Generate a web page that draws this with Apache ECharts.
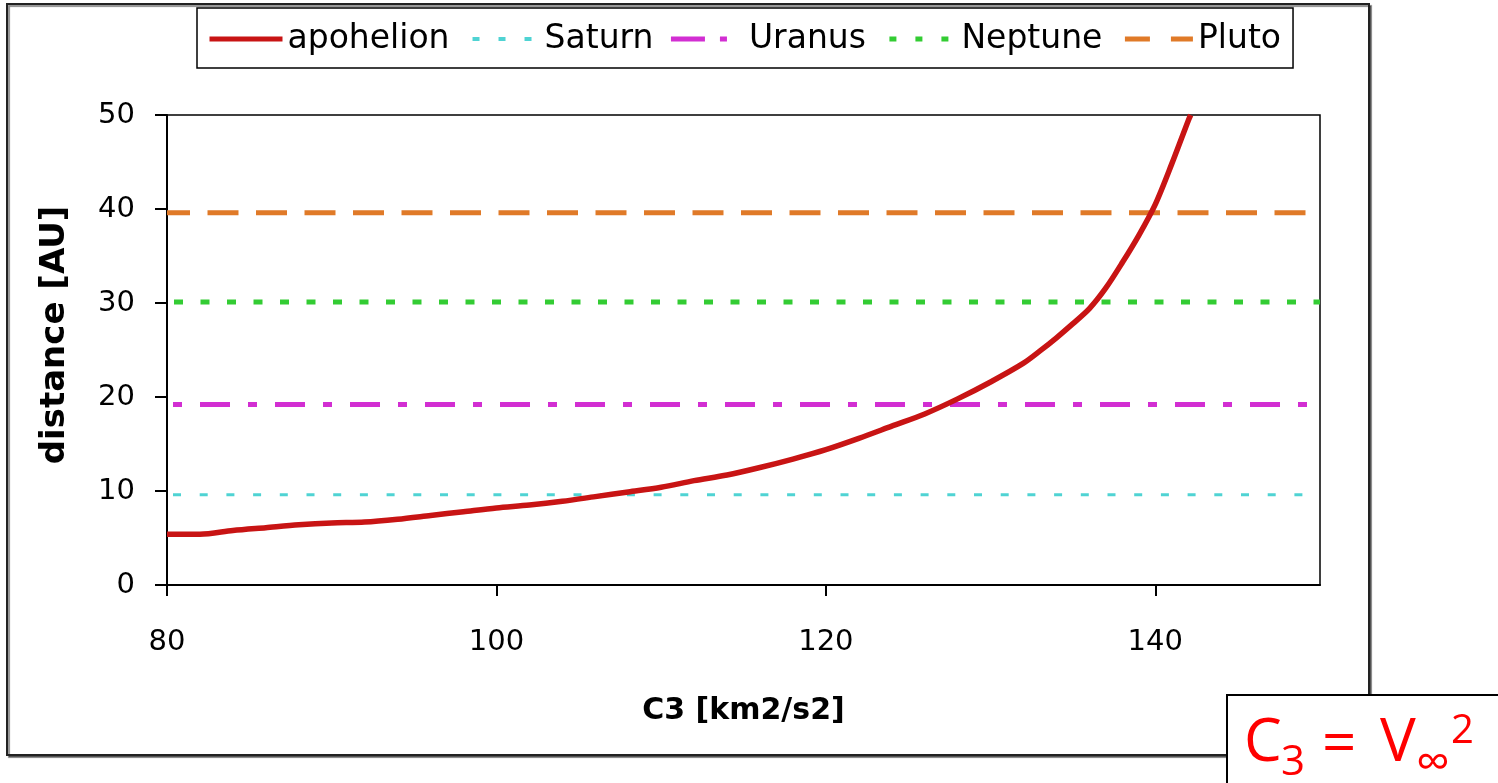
<!DOCTYPE html>
<html>
<head>
<meta charset="utf-8">
<script src="https://cdn.jsdelivr.net/npm/echarts@6/dist/echarts.min.js"></script>
<style>
html,body{margin:0;padding:0;background:#fff;}
#chart{width:1498px;height:783px;}
</style>
</head>
<body>
<div id="chart"></div>
<script>
// ---- data ----
const c3Values = [80, 82, 84, 86, 88, 90, 92, 94, 96, 98, 100, 102, 104, 106, 108, 110, 112, 114, 116, 118, 120, 122, 124, 126, 128, 130, 132, 133, 134, 135, 136, 137, 138, 139, 140, 141, 142, 142.15];
const apohelionAU = [5.4, 5.4, 5.8, 6.1, 6.4, 6.6, 6.7, 7.0, 7.4, 7.8, 8.2, 8.5, 8.9, 9.4, 9.9, 10.4, 11.1, 11.7, 12.5, 13.4, 14.4, 15.6, 16.9, 18.2, 19.8, 21.6, 23.6, 24.9, 26.3, 27.8, 29.4, 31.6, 34.3, 37.2, 40.5, 44.8, 49.4, 50.0];
const seriesNames = ['apohelion', 'Saturn', 'Uranus', 'Neptune', 'Pluto'];
const saturnAU = 9.6;
const uranusAU = 19.2;
const neptuneAU = 30.1;
const plutoAU = 39.6;
const xRange = [80, 150];
const xTickValues = [80, 100, 120, 140];
const yRange = [0, 50];
const yInterval = 10;
const xTitle = 'C3 [km2/s2]';
const yTitle = 'distance [AU]';

const hline = v => [[xRange[0], v], [xRange[1], v]];
const curve = c3Values.map((c, i) => [c, apohelionAU[i]]);

const chart = echarts.init(document.getElementById('chart'), null, {renderer: 'canvas'});
const FONT = '"DejaVu Sans", sans-serif';
const COL = {apo: '#c81414', sat: '#4fd3d3', ura: '#d22ed2', nep: '#33cc33', plu: '#e07a28'};

const option = {
  backgroundColor: '#fff',
  animation: false,
  grid: {
    left: 167, top: 115, right: 178, bottom: 198,
    show: true, borderColor: '#000', borderWidth: 1.5, backgroundColor: 'transparent'
  },
  legend: {
    data: [
      {name: seriesNames[0], lineStyle: {width: 5, type: 'solid', color: COL.apo}},
      {name: seriesNames[1], lineStyle: {width: 4, type: [7, 19], dashOffset: 20, cap: 'butt', color: COL.sat}},
      {name: seriesNames[2], lineStyle: {width: 5, type: [34, 15, 7, 30], dashOffset: 0, cap: 'butt', color: COL.ura}},
      {name: seriesNames[3], lineStyle: {width: 5, type: [7, 19], dashOffset: 20, cap: 'butt', color: COL.nep}},
      {name: seriesNames[4], lineStyle: {width: 5, type: [25, 21], dashOffset: 41, cap: 'butt', color: COL.plu}}
    ],
    left: 197, top: 8,
    padding: [13, 12, 11, 10],
    itemWidth: 73, itemHeight: 14, itemGap: 15,
    itemStyle: {opacity: 0, borderWidth: 0},
    borderColor: '#000', borderWidth: 1.5, borderRadius: 0,
    backgroundColor: '#fff',
    textStyle: {fontFamily: FONT, fontSize: 33, color: '#000', lineHeight: 36}
  },
  xAxis: {
    type: 'value', min: xRange[0], max: xRange[1], interval: 20,
    name: xTitle, nameLocation: 'middle', nameGap: 111,
    nameTextStyle: {fontFamily: FONT, fontSize: 30, fontWeight: 'bold', color: '#000'},
    axisLine: {show: true, onZero: false, lineStyle: {color: '#000', width: 2}},
    axisTick: {show: true, length: 11, lineStyle: {color: '#000', width: 2}, customValues: xTickValues},
    axisLabel: {fontFamily: FONT, fontSize: 29, color: '#000', margin: 43, customValues: xTickValues},
    splitLine: {show: false}
  },
  yAxis: {
    type: 'value', min: yRange[0], max: yRange[1], interval: yInterval,
    name: yTitle, nameLocation: 'middle', nameGap: 95, nameRotate: 90,
    nameTextStyle: {fontFamily: FONT, fontSize: 34, fontWeight: 'bold', color: '#000', padding: [0, 0, 0, 30]},
    axisLine: {show: true, onZero: false, lineStyle: {color: '#000', width: 2}},
    axisTick: {show: true, length: 12, lineStyle: {color: '#000', width: 2}},
    axisLabel: {fontFamily: FONT, fontSize: 29, color: '#000', margin: 32},
    splitLine: {show: false}
  },
  series: [
    {
      name: seriesNames[0], type: 'line', data: curve, symbol: 'none', smooth: 0.3, z: 10,
      lineStyle: {color: COL.apo, width: 5.5}, itemStyle: {color: COL.apo}
    },
    {
      name: seriesNames[1], type: 'line', data: hline(saturnAU), symbol: 'none',
      lineStyle: {color: COL.sat, width: 3, type: [8, 18.7], dashOffset: 20.7, cap: 'butt'},
      itemStyle: {color: COL.sat}
    },
    {
      name: seriesNames[2], type: 'line', data: hline(uranusAU), symbol: 'none',
      lineStyle: {color: COL.ura, width: 5, type: [30, 18, 9, 18], dashOffset: 42, cap: 'butt'},
      itemStyle: {color: COL.ura}
    },
    {
      name: seriesNames[3], type: 'line', data: hline(neptuneAU), symbol: 'none',
      lineStyle: {color: COL.nep, width: 5, type: [9, 17.5], dashOffset: 19.5, cap: 'butt'},
      itemStyle: {color: COL.nep}
    },
    {
      name: seriesNames[4], type: 'line', data: hline(plutoAU), symbol: 'none',
      lineStyle: {color: COL.plu, width: 5, type: [31, 17.5], dashOffset: 8, cap: 'butt'},
      itemStyle: {color: COL.plu}
    }
  ],
  graphic: [
    {
      type: 'rect', z: -10, silent: true,
      shape: {x: 7, y: 4, width: 1362, height: 751},
      style: {fill: '#fff', stroke: '#222', lineWidth: 2, shadowColor: 'rgba(0,0,0,0.45)', shadowOffsetX: 2, shadowOffsetY: 2, shadowBlur: 1}
    },
    {
      type: 'group', z: 100,
      children: [
        {type: 'rect', shape: {x: 1227, y: 695, width: 290, height: 100}, style: {fill: '#fff', stroke: '#000', lineWidth: 2}},
        {type: 'text', x: 1244, y: 744, style: {text: 'C', font: '60px "Open Sans"', fill: '#ff0000', verticalAlign: 'middle', align: 'left'}},
        {type: 'text', x: 1281, y: 763, style: {text: '3', font: '42px "Open Sans"', fill: '#ff0000', verticalAlign: 'middle', align: 'left'}},
        {type: 'text', x: 1322, y: 746, style: {text: '=', font: '60px "Open Sans"', fill: '#ff0000', verticalAlign: 'middle', align: 'left'}},
        {type: 'text', x: 1380, y: 744, style: {text: 'V', font: '60px "Open Sans"', fill: '#ff0000', verticalAlign: 'middle', align: 'left'}},
        {type: 'text', x: 1416, y: 764, style: {text: '∞', font: '48px "Open Sans"', fill: '#ff0000', verticalAlign: 'middle', align: 'left'}},
        {type: 'text', x: 1451, y: 732, style: {text: '2', font: '40px "Open Sans"', fill: '#ff0000', verticalAlign: 'middle', align: 'left'}}
      ]
    }
  ]
};
chart.setOption(option);
</script>
</body>
</html>
